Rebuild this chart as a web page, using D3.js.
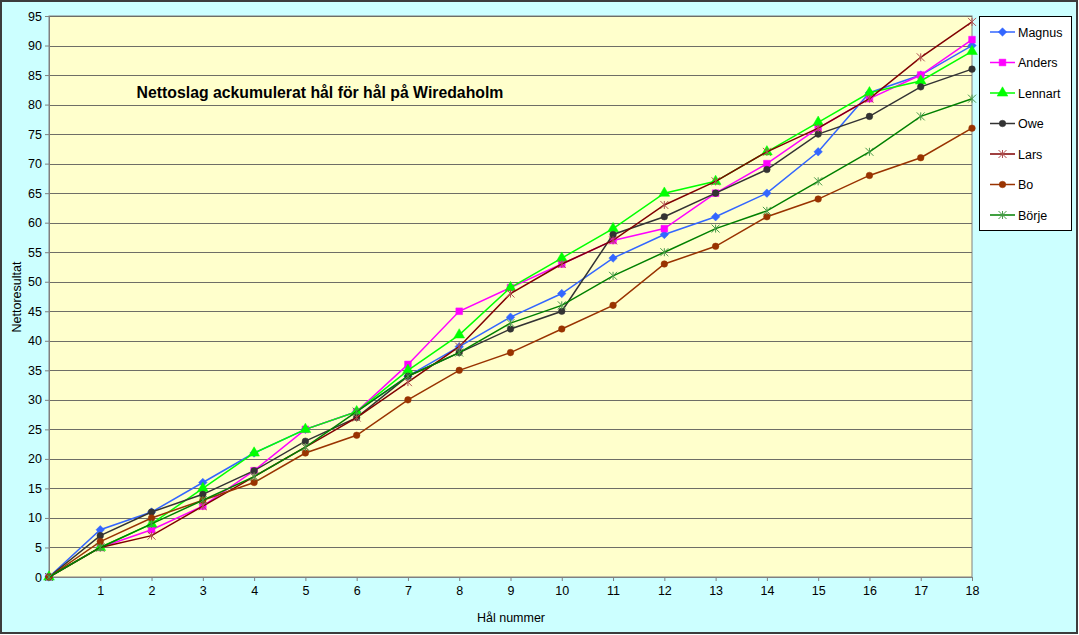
<!DOCTYPE html>
<html>
<head>
<meta charset="utf-8">
<script src="https://cdn.jsdelivr.net/npm/d3@7"></script>
<style>
  body { margin: 0; background: #fff; }
  text { font-family: "Liberation Sans", Arial, sans-serif; }
</style>
</head>
<body>
<div id="chart"></div>
<script>
// holes 0..18, cumulative net strokes per player
var holes = d3.range(0, 19);
var players = ['Magnus', 'Anders', 'Lennart', 'Owe', 'Lars', 'Bo', 'Börje'];
var magnus  = [0, 8, 11, 16, 21, 25, 28, 34, 39, 44, 48, 54, 58, 61, 65, 72, 82, 85, 90];
var anders  = [0, 5, 8, 12, 18, 25, 28, 36, 45, 49, 53, 57, 59, 65, 70, 76, 81, 85, 91];
var lennart = [0, 5, 9, 15, 21, 25, 28, 35, 41, 49, 54, 59, 65, 67, 72, 77, 82, 84, 89];
var owe     = [0, 7, 11, 14, 18, 23, 27, 34, 38, 42, 45, 58, 61, 65, 69, 75, 78, 83, 86];
var lars    = [0, 5, 7, 12, 17, 22, 27, 33, 39, 48, 53, 57, 63, 67, 72, 76, 81, 88, 94];
var bo      = [0, 6, 10, 13, 16, 21, 24, 30, 35, 38, 42, 46, 53, 56, 61, 64, 68, 71, 76];
var borje   = [0, 5, 9, 13, 17, 22, 28, 34, 38, 43, 46, 51, 55, 59, 62, 67, 72, 78, 81];
var yTicks = d3.range(0, 100, 5);
var xTickLabels = d3.range(1, 19);

var values = [magnus, anders, lennart, owe, lars, bo, borje];
var colors = ['#3366FF', '#FF00FF', '#00FF00', '#333333', '#800000', '#993300', '#008000'];
var markerColors = ['#3366FF', '#FF00FF', '#00FF00', '#333333', '#B05050', '#993300', '#4A9A4A'];

// excel-like markers: square diamond, and a star made of an X plus a vertical bar
var diamond = {
    draw: function(ctx, size) {
        var r = Math.sqrt(size / 2);
        ctx.moveTo(0, -r); ctx.lineTo(r, 0); ctx.lineTo(0, r); ctx.lineTo(-r, 0); ctx.closePath();
    }
};
var star = {
    draw: function(ctx, size) {
        var r = Math.sqrt(size) / 2;
        ctx.moveTo(-r, -r); ctx.lineTo(r, r);
        ctx.moveTo(-r, r); ctx.lineTo(r, -r);
        ctx.moveTo(0, -r); ctx.lineTo(0, r);
    }
};
var symbols = [diamond, d3.symbolSquare, d3.symbolTriangle, d3.symbolCircle,
               star, d3.symbolCircle, star];
var symSizes = [36, 45, 50, 34, 64, 34, 64];
var stroked = [false, false, false, false, true, false, true];

var W = 1079, H = 635;
var plot = {left: 49, right: 972, top: 16, bottom: 577};

var svg = d3.select('#chart').append('svg')
    .attr('width', W)
    .attr('height', H);

// chart background
svg.append('rect')
    .attr('x', 1).attr('y', 1)
    .attr('width', W - 3).attr('height', H - 3)
    .attr('fill', '#CCFFFF')
    .attr('stroke', '#3c3c3c')
    .attr('stroke-width', 2);

var x = d3.scaleLinear().domain([0, 18]).range([plot.left, plot.right]);
var y = d3.scaleLinear().domain([0, 95]).range([plot.bottom, plot.top]);

// plot area
svg.append('rect')
    .attr('x', plot.left).attr('y', plot.top)
    .attr('width', plot.right - plot.left).attr('height', plot.bottom - plot.top)
    .attr('fill', '#FFFFCC')
    .attr('stroke', '#808080');

// gridlines
svg.append('g').selectAll('line')
    .data(yTicks.slice(1))
    .enter().append('line')
    .attr('x1', plot.left).attr('x2', plot.right)
    .attr('y1', function(d){ return Math.round(y(d)) + 0.5; })
    .attr('y2', function(d){ return Math.round(y(d)) + 0.5; })
    .attr('stroke', '#6e6e66')
    .attr('stroke-width', 1.2);

// axes
var yAxis = svg.append('g')
    .attr('transform', 'translate(' + plot.left + ',0)')
    .call(d3.axisLeft(y).tickValues(yTicks).tickSize(4).tickPadding(3));
var xAxis = svg.append('g')
    .attr('transform', 'translate(0,' + plot.bottom + ')')
    .call(d3.axisBottom(x).tickValues(xTickLabels).tickSize(4).tickPadding(5));

[yAxis, xAxis].forEach(function(a){
    a.select('.domain').attr('stroke', '#808080');
    a.selectAll('.tick line').attr('stroke', '#808080');
    a.selectAll('.tick text')
        .attr('fill', '#000')
        .style('font-size', '12.5px')
        .style('font-family', '"Liberation Sans", Arial, sans-serif');
});

// series
var line = d3.line()
    .x(function(d, i){ return x(holes[i]); })
    .y(function(d){ return y(d); });

values.forEach(function(vals, s){
    var g = svg.append('g');
    g.append('path')
        .datum(vals)
        .attr('fill', 'none')
        .attr('stroke', colors[s])
        .attr('stroke-width', 1.5)
        .attr('d', line);
    g.selectAll('path.m')
        .data(vals)
        .enter().append('path')
        .attr('class', 'm')
        .attr('transform', function(d, i){ return 'translate(' + x(holes[i]) + ',' + y(d) + ')'; })
        .attr('d', d3.symbol().type(symbols[s]).size(symSizes[s]))
        .attr('fill', stroked[s] ? 'none' : markerColors[s])
        .attr('stroke', markerColors[s])
        .attr('stroke-width', stroked[s] ? 1 : 0.5);
});

// title
svg.append('text')
    .attr('x', 320).attr('y', 98)
    .attr('text-anchor', 'middle')
    .style('font-size', '15.8px')
    .style('font-weight', 'bold')
    .text('Nettoslag ackumulerat hål för hål på Wiredaholm');

// axis titles
svg.append('text')
    .attr('transform', 'translate(21,297) rotate(-90)')
    .attr('text-anchor', 'middle')
    .style('font-size', '12.5px')
    .text('Nettoresultat');
svg.append('text')
    .attr('x', 511).attr('y', 622)
    .attr('text-anchor', 'middle')
    .style('font-size', '12.5px')
    .text('Hål nummer');

// legend
var legend = svg.append('g');
legend.append('rect')
    .attr('x', 979.5).attr('y', 16.5)
    .attr('width', 92).attr('height', 214)
    .attr('fill', '#fff')
    .attr('stroke', '#000');

var ly = d3.scalePoint().domain(players).range([32, 215]);
players.forEach(function(p, s){
    var yy = ly(p);
    legend.append('line')
        .attr('x1', 990).attr('x2', 1015)
        .attr('y1', yy).attr('y2', yy)
        .attr('stroke', colors[s])
        .attr('stroke-width', 1.5);
    legend.append('path')
        .attr('transform', 'translate(1002.5,' + yy + ')')
        .attr('d', d3.symbol().type(symbols[s]).size(symSizes[s]))
        .attr('fill', stroked[s] ? 'none' : markerColors[s])
        .attr('stroke', markerColors[s])
        .attr('stroke-width', stroked[s] ? 1 : 0.5);
    legend.append('text')
        .attr('x', 1018).attr('y', yy + 4.5)
        .style('font-size', '12.5px')
        .text(p);
});
</script>
</body>
</html>
